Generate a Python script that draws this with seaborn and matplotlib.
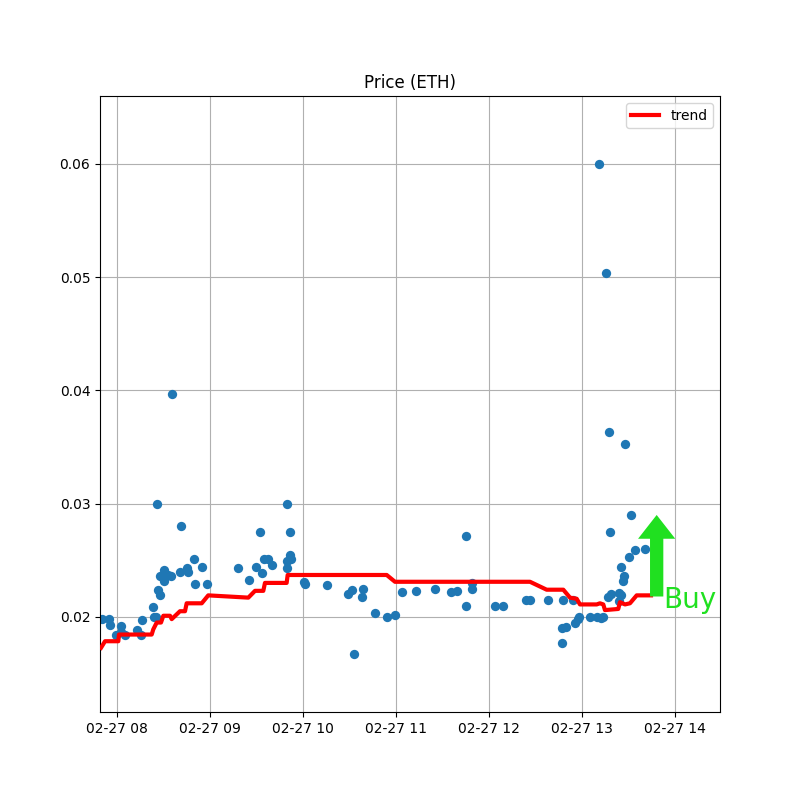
import numpy as np
import pandas as pd
import matplotlib
matplotlib.use("Agg")
import matplotlib.pyplot as plt
import matplotlib.dates as mdates
import seaborn as sns

BASE_DAY = "2018-02-27"

# Scatter observations: hour of day (decimal) and price in ETH
price_hours = [
    7.84, 7.91, 7.92, 8.036, 7.99, 8.08, 8.04,
    8.215, 8.26, 8.27, 8.387, 8.39, 8.42, 8.44, 8.456,
    8.427, 8.459, 8.502, 8.505, 8.577, 8.54, 8.591, 8.688,
    8.677, 8.753, 8.757, 8.825, 8.839, 8.914, 8.968,
    9.30, 9.416, 9.49, 9.534, 9.56, 9.58, 9.62, 9.66,
    9.821, 9.857, 9.857, 9.864, 9.82, 9.83,
    10.02, 10.01, 10.25,
    10.484, 10.52, 10.54, 10.645, 10.63,
    10.77, 10.897, 10.99,
    11.064, 11.21, 11.42, 11.585, 11.656,
    11.75, 11.75, 11.81, 11.81,
    12.06, 12.15,
    12.40, 12.44, 12.635, 12.797, 12.90,
    12.78, 12.78, 12.82, 12.92, 12.95, 12.96,
    13.08, 13.155, 13.20, 13.226,
    13.176, 13.258, 13.287, 13.463, 13.527, 13.30,
    13.28, 13.31, 13.39, 13.39, 13.42,
    13.42, 13.45, 13.44,
    13.505, 13.57, 13.67,
]
price_values = [
    0.0198, 0.0198, 0.0193, 0.0192, 0.0184, 0.0184, 0.0187,
    0.0188, 0.0184, 0.0197, 0.0209, 0.0200, 0.0200, 0.0224, 0.0219,
    0.0300, 0.0236, 0.0241, 0.0232, 0.0236, 0.0237, 0.0397, 0.0280,
    0.0240, 0.0243, 0.0240, 0.0251, 0.0229, 0.0244, 0.0229,
    0.0243, 0.0233, 0.0244, 0.0275, 0.0239, 0.0251, 0.0251, 0.0246,
    0.0300, 0.0275, 0.0255, 0.0251, 0.0249, 0.0243,
    0.0229, 0.0231, 0.0228,
    0.0220, 0.0224, 0.01673, 0.0225, 0.0218,
    0.0203, 0.0200, 0.0202,
    0.0222, 0.0223, 0.02247, 0.0222, 0.0223,
    0.0271, 0.0210, 0.0230, 0.02247,
    0.0210, 0.0210,
    0.0215, 0.0215, 0.0215, 0.0215, 0.0215,
    0.0177, 0.0190, 0.0191, 0.0195, 0.0198, 0.0200,
    0.0200, 0.0200, 0.0199, 0.0200,
    0.0600, 0.0504, 0.03635, 0.03528, 0.0290, 0.02747,
    0.0218, 0.0220, 0.0221, 0.0214, 0.0219,
    0.0244, 0.0236, 0.0232,
    0.0253, 0.0259, 0.0260,
]

# Trend line vertices
trend_hours = [
    7.825, 7.868, 8.011, 8.018, 8.370, 8.387, 8.424, 8.470, 8.495, 8.567,
    8.585, 8.674, 8.728, 8.746, 8.908, 8.978, 9.409, 9.481, 9.570, 9.588,
    9.821, 9.832, 10.897, 10.986, 12.438, 12.617, 12.796, 12.868, 12.940,
    12.975, 13.155, 13.190, 13.226, 13.244, 13.387, 13.405, 13.459, 13.513,
    13.585, 13.739,
]
trend_values = [
    0.01727, 0.01785, 0.01785, 0.01844, 0.01844, 0.0189, 0.0195, 0.0195, 0.0201, 0.0201,
    0.0198, 0.0205, 0.0205, 0.0212, 0.0212, 0.0219, 0.0217, 0.0223, 0.0223, 0.0230,
    0.0230, 0.0237, 0.0237, 0.0231, 0.0231, 0.0224, 0.0224, 0.0217, 0.0216,
    0.0211, 0.0211, 0.0212, 0.0211, 0.0206, 0.0207, 0.0213, 0.0211, 0.0212,
    0.0219, 0.0219,
]

# Buy signal
buy_hour = 13.80
buy_start = 0.0218
buy_end = 0.0290
buy_label = "Buy"
buy_text_hour = 13.875
buy_text_value = 0.0208

x_range_hours = (7.814, 14.481)
y_range = (0.0116, 0.066)


def to_time(hours):
    return pd.Timestamp(BASE_DAY) + pd.to_timedelta(np.asarray(hours, dtype=float), unit="h")


scatter_df = pd.DataFrame({"time": to_time(price_hours), "price": price_values})
trend_df = pd.DataFrame({"time": to_time(trend_hours), "trend": trend_values})

fig, ax = plt.subplots(figsize=(8, 8), dpi=100)

sns.scatterplot(data=scatter_df, x="time", y="price", ax=ax, color="#1f77b4",
                s=45, linewidth=0, zorder=2)
sns.lineplot(data=trend_df, x="time", y="trend", ax=ax, color="red", linewidth=3,
             label="trend", estimator=None, sort=False, zorder=3)

green = "#20e020"
bx = mdates.date2num(to_time([buy_hour])[0])
ax.arrow(bx, buy_start, 0, buy_end - buy_start, width=0.143 / 24, head_width=0.40 / 24,
         head_length=0.0021, length_includes_head=True, color=green, linewidth=0, zorder=4)
ax.text(to_time([buy_text_hour])[0], buy_text_value, buy_label, color=green, fontsize=20,
        ha="left", va="baseline")

ax.set_xlim(to_time([x_range_hours[0]])[0], to_time([x_range_hours[1]])[0])
ax.set_ylim(*y_range)
ax.xaxis.set_major_locator(mdates.HourLocator())
ax.xaxis.set_major_formatter(mdates.DateFormatter("%m-%d %H"))
ax.set_xlabel("")
ax.set_ylabel("")
ax.set_title("Price (ETH)")
ax.grid(True)
ax.legend(loc="upper right")

fig.savefig("out.png", dpi=100)
